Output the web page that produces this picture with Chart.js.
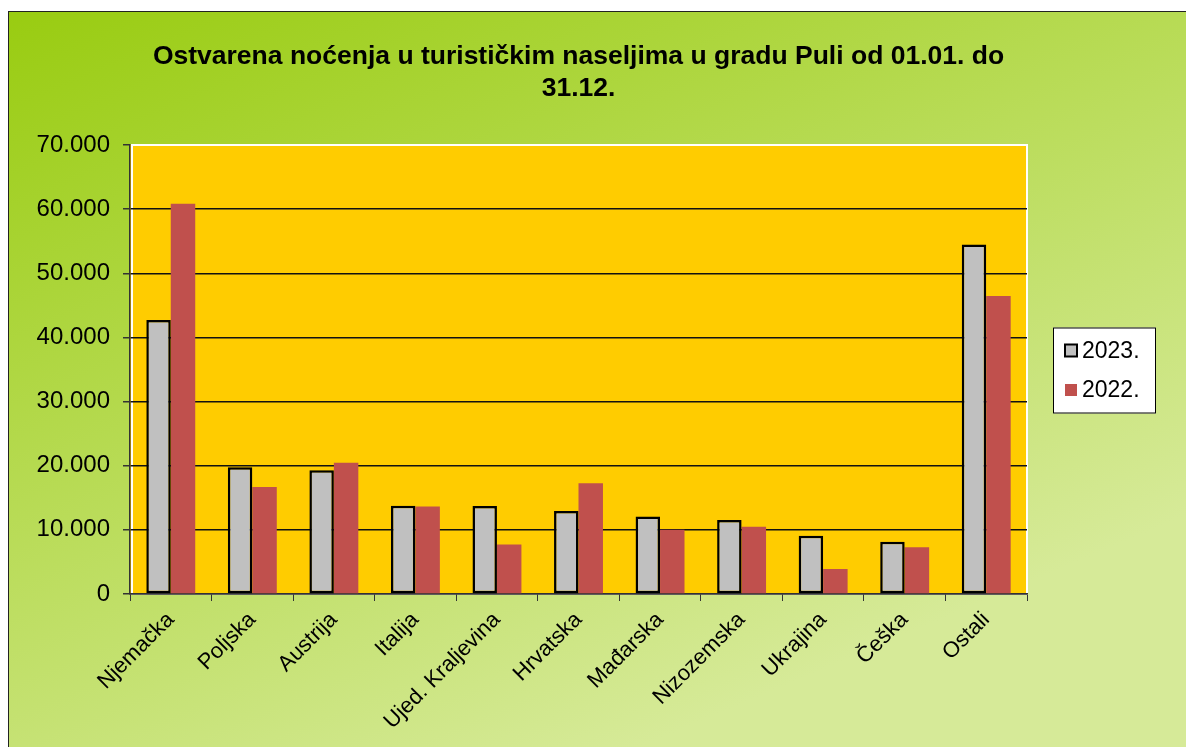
<!DOCTYPE html>
<html>
<head>
<meta charset="utf-8">
<title>Ostvarena noćenja u turističkim naseljima u gradu Puli</title>
<script src="https://cdn.jsdelivr.net/npm/chart.js@4.4.1/dist/chart.umd.min.js"></script>
<style>
  html, body { margin: 0; padding: 0; background: #fff; overflow: hidden; }
  #frame { position: absolute; left: 8px; top: 11px; width: 1180px; height: 740px; border: 1px solid #222; }
</style>
</head>
<body>
<div id="frame"><canvas id="nightsChart"></canvas></div>
<script>
// Data
const categories = ['Njemačka', 'Poljska', 'Austrija', 'Italija', 'Ujed. Kraljevina', 'Hrvatska',
  'Mađarska', 'Nizozemska', 'Ukrajina', 'Češka', 'Ostali'];
const nights2023 = [42700, 19750, 19300, 13750, 13700, 12950, 12100, 11550, 9100, 8150, 54500];
const nights2022 = [60850, 16700, 20450, 13650, 7700, 17250, 10000, 10500, 3900, 7300, 46450];
const seriesLabels = ['2023.', '2022.'];
const titleLines = ['Ostvarena noćenja u turističkim naseljima u gradu Puli od 01.01. do', '31.12.'];
const yMax = 70000;
const yStep = 10000;

const FONT = '"Liberation Sans", Arial, sans-serif';

// 70000 -> "70.000"
function formatThousands(v) {
  return String(v).replace(/\B(?=(\d{3})+(?!\d))/g, '.');
}

// Green gradient background, yellow plot area with white edge
const chartBackground = {
  id: 'chartBackground',
  beforeDraw(chart) {
    const { ctx, width, height, chartArea: a } = chart;
    ctx.save();
    const g = ctx.createLinearGradient(0, 0, 360, 850);
    g.addColorStop(0, '#99cc11');
    g.addColorStop(1, '#d6ea98');
    ctx.fillStyle = g;
    ctx.fillRect(0, 0, width, height);
    ctx.fillStyle = '#ffcc00';
    ctx.fillRect(a.left, a.top, a.right - a.left, a.bottom - a.top);
    ctx.strokeStyle = '#fff';
    ctx.lineWidth = 2;
    ctx.strokeRect(a.left + 2, a.top, a.right - a.left - 2, a.bottom - a.top);
    ctx.restore();
  }
};

// Legend in a white box to the right of the plot
const boxedLegend = {
  id: 'boxedLegend',
  afterDraw(chart) {
    const { ctx, chartArea: a } = chart;
    const left = a.right + 26;
    const top = (a.top + a.bottom) / 2 - 42;
    ctx.save();
    ctx.fillStyle = '#fff';
    ctx.fillRect(left, top, 103, 86);
    ctx.strokeStyle = '#000';
    ctx.lineWidth = 1;
    ctx.strokeRect(left + 0.5, top + 0.5, 102, 85);
    ctx.font = '23px ' + FONT;
    ctx.textBaseline = 'middle';
    chart.data.datasets.forEach((ds, i) => {
      const y = top + 23 + i * 39.5;
      ctx.fillStyle = ds.backgroundColor;
      ctx.fillRect(left + 12, y - 6, 12, 12);
      if (ds.borderWidth) {
        ctx.strokeStyle = ds.borderColor;
        ctx.lineWidth = 2;
        ctx.strokeRect(left + 12, y - 6, 12, 12);
      }
      ctx.fillStyle = '#000';
      ctx.fillText(ds.label, left + 29, y + 1);
    });
    ctx.restore();
  }
};

new Chart(document.getElementById('nightsChart'), {
  type: 'bar',
  data: {
    labels: categories,
    datasets: [
      {
        label: seriesLabels[0],
        data: nights2023,
        backgroundColor: '#c0c0c0',
        borderColor: '#000',
        borderWidth: 2.5,
        borderSkipped: false
      },
      {
        label: seriesLabels[1],
        data: nights2022,
        backgroundColor: '#c0504d',
        borderWidth: 0
      }
    ]
  },
  options: {
    responsive: true,
    maintainAspectRatio: false,
    animation: false,
    categoryPercentage: 0.6,
    barPercentage: 1.0,
    layout: { padding: { left: 0, right: 162, top: 0, bottom: 0 } },
    plugins: {
      legend: { display: false },
      tooltip: { enabled: false },
      title: {
        display: true,
        fullSize: false,
        text: titleLines,
        color: '#000',
        font: { family: FONT, size: 26.5, weight: 'bold', lineHeight: 1.2075 },
        padding: { top: 29, bottom: 40 }
      }
    },
    scales: {
      x: {
        grid: { display: true, drawOnChartArea: false, drawTicks: true, tickLength: 7, color: '#333', offset: true },
        border: { display: true, color: '#333', width: 1.5 },
        ticks: {
          color: '#000',
          font: { family: FONT, size: 22 },
          minRotation: 45,
          maxRotation: 45,
          autoSkip: false,
          padding: 6
        },
        afterFit(scale) { scale.height = scale.chart.height - 582; }
      },
      y: {
        min: 0,
        max: yMax,
        ticks: {
          stepSize: yStep,
          color: '#000',
          font: { family: FONT, size: 24 },
          padding: 13,
          callback: v => formatThousands(v)
        },
        grid: {
          color: c => (c.tick && c.tick.value === yMax) ? 'rgba(0,0,0,0)' : '#111',
          tickColor: '#333',
          lineWidth: 1.5,
          tickLength: 7
        },
        border: { display: true, color: '#333', width: 1.5 },
        afterFit(scale) { scale.width = 121; }
      }
    }
  },
  plugins: [chartBackground, boxedLegend]
});
</script>
</body>
</html>
